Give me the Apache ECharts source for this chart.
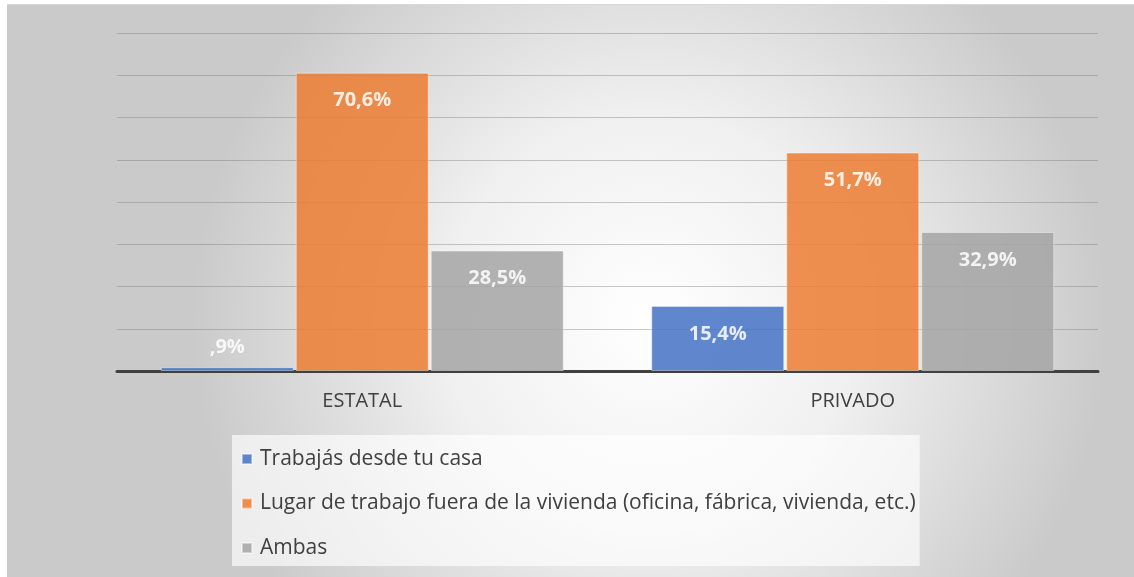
<!DOCTYPE html>
<html>
<head>
<meta charset="utf-8">
<script src="https://cdn.jsdelivr.net/npm/echarts@6/dist/echarts.min.js"></script>
<style>
  html, body { margin: 0; padding: 0; background: #fff; }
  #chart { position: absolute; left: 7px; top: 4px; width: 1127px; height: 573px; border-top: 1px solid #d8d8d8; box-sizing: border-box; }
</style>
</head>
<body>
<div id="chart"></div>
<script>
// datos del gráfico
var categorias = ['ESTATAL', 'PRIVADO'];
var series_nombres = [
    'Trabajás desde tu casa',
    'Lugar de trabajo fuera de la vivienda (oficina, fábrica, vivienda, etc.)',
    'Ambas'
];
var casa = [0.9, 15.4];
var fuera = [70.6, 51.7];
var ambas = [28.5, 32.9];
var colores = ['#4472C4', '#ED7D31', '#A5A5A5'];

// ",9%" al estilo de Excel (sin cero inicial, coma decimal)
function fmt(v) {
    var s = v.toFixed(1).replace('.', ',');
    if (s.indexOf('0,') === 0) s = s.substring(1);
    return s + '%';
}

var fuente = 'Open Sans';
var valores = [casa, fuera, ambas];

var myChart = echarts.init(document.getElementById('chart'));

var option = {
    backgroundColor: {
        type: 'radial', x: 0.57, y: 0.55, r: 0.8,
        colorStops: [
            { offset: 0, color: '#ffffff' },
            { offset: 0.45, color: '#f0f0f0' },
            { offset: 1, color: '#cacaca' }
        ]
    },
    textStyle: { fontFamily: fuente },
    animation: false,
    grid: { left: 110, right: 36, top: 28, bottom: 206 },
    legend: {
        orient: 'vertical',
        left: 225,
        top: 430,
        backgroundColor: 'rgba(255,255,255,0.65)',
        padding: [12, 4, 6, 9],
        itemGap: 20.5,
        itemWidth: 10,
        itemHeight: 10,
        icon: 'rect',
        textStyle: { fontSize: 21, lineHeight: 24, color: '#404040', fontFamily: fuente, padding: [0, 0, 0, 3] },
        data: series_nombres
    },
    xAxis: {
        type: 'category',
        data: categorias,
        axisLine: { lineStyle: { color: '#404040', width: 3 } },
        axisTick: { show: false },
        axisLabel: { color: '#404040', fontSize: 20, margin: 20, fontFamily: fuente }
    },
    yAxis: {
        type: 'value',
        min: 0,
        max: 80,
        interval: 10,
        axisLabel: { show: false },
        axisLine: { show: false },
        axisTick: { show: false },
        splitLine: { lineStyle: { color: 'rgba(120,120,120,0.4)', width: 1 } }
    },
    series: function () {
        var serie = [];
        for (var i = 0; i < series_nombres.length; i++) {
            var datos = [];
            for (var j = 0; j < valores[i].length; j++) {
                var d = { value: valores[i][j] };
                if (valores[i][j] < 5) {
                    d.label = { position: 'top', distance: 10 };
                }
                datos.push(d);
            }
            serie.push({
                name: series_nombres[i],
                type: 'bar',
                barWidth: 133,
                barGap: '1.5%',
                z: 1,
                itemStyle: {
                    color: colores[i],
                    opacity: 0.85,
                    borderColor: 'rgba(255,255,255,0.5)',
                    borderWidth: 1
                },
                label: {
                    show: true,
                    position: 'insideTop',
                    distance: 18,
                    color: '#ffffff',
                    fontWeight: 'bold',
                    fontSize: 20,
                    fontFamily: fuente,
                    formatter: function (p) { return fmt(p.value); }
                },
                data: datos
            });
        }
        return serie;
    }()
};

myChart.setOption(option);
</script>
</body>
</html>
